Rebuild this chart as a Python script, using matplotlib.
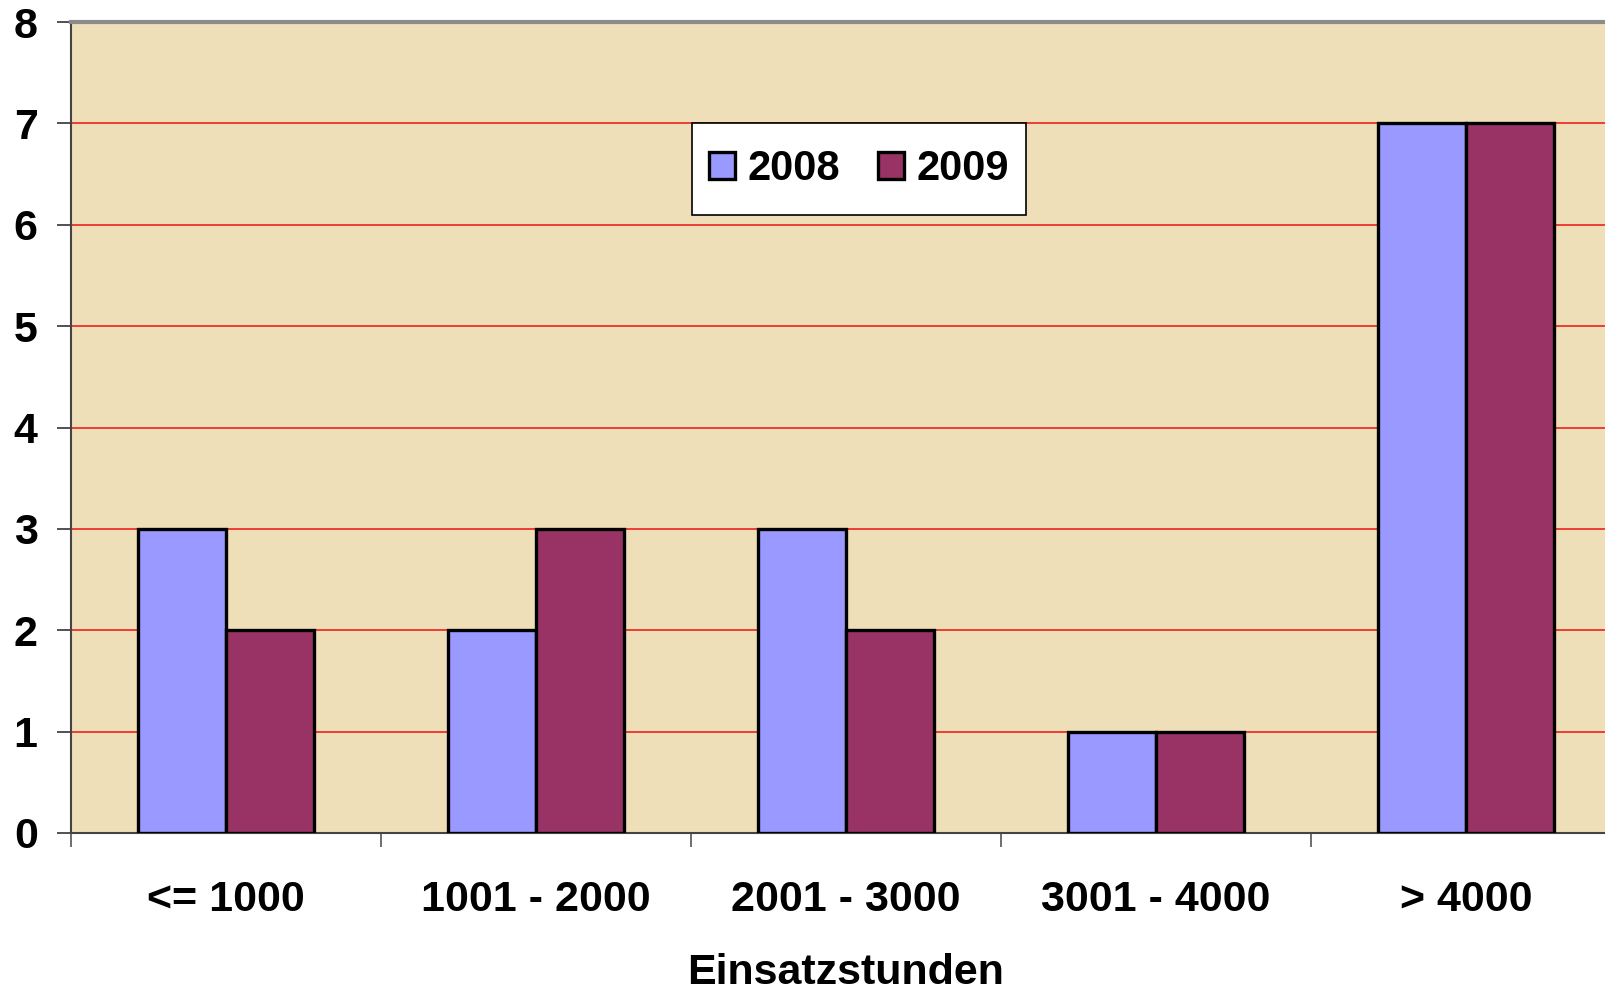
import numpy as np
import matplotlib.pyplot as plt
from matplotlib.patches import Rectangle

# Einsatzstunden categories and counts per year
categories = ['<= 1000', '1001 - 2000', '2001 - 3000', '3001 - 4000', '> 4000']
values_2008 = [3, 2, 3, 1, 7]
values_2009 = [2, 3, 2, 1, 7]
years = ['2008', '2009']

plt.rcParams['font.family'] = ['Liberation Sans', 'DejaVu Sans']
plt.rcParams['font.weight'] = 'bold'

W, H = 1605, 990
ax_l, ax_b, ax_t = 71, 833, 22   # plot area in pixels
fig = plt.figure(figsize=(W / 100, H / 100), dpi=100)
ax = fig.add_axes([ax_l / W, (H - ax_b) / H, 1 - ax_l / W, (ax_b - ax_t) / H])
ax.set_facecolor('#EFDFB8')

x = np.arange(len(categories))
w = 0.285
ax.bar(x - w / 2, values_2008, w, color='#9999FF', edgecolor='black', linewidth=2.4, label=years[0], zorder=3)
ax.bar(x + w / 2, values_2009, w, color='#993366', edgecolor='black', linewidth=2.4, label=years[1], zorder=3)

ax.set_yticks(range(0, 9))
ax.set_xticks(x)
ax.set_xticklabels(categories)
ax.set_xticks(np.arange(len(categories) + 1) - 0.5, minor=True)
# plot area is cut at the right edge, like in the original
ax.set_ylim(0, 8)
ax.set_xlim(-0.5, -0.5 + (W - ax_l) / 310)

for y in range(1, 8):
    ax.axhline(y, color='#EE1111', linewidth=1.1, zorder=1)

fs = 31
ax.tick_params(axis='x', which='major', length=0, pad=34, labelsize=fs)
ax.tick_params(axis='x', which='minor', length=10, width=1.2, color='#555555', direction='out')
ax.tick_params(axis='y', length=10, width=1.2, color='#333333', pad=14, labelsize=fs)
for lab in ax.get_xticklabels() + ax.get_yticklabels():
    lab.set_fontweight('bold')

for side in ['left', 'bottom']:
    ax.spines[side].set_color('#444444')
    ax.spines[side].set_linewidth(1.5)
ax.spines['top'].set_color('#8C8C8C')
ax.spines['top'].set_linewidth(3)
ax.spines['right'].set_visible(False)

ax.set_xlabel('Einsatzstunden', fontsize=fs, fontweight='bold', va='center')
ax.xaxis.set_label_coords((846 - ax_l) / (W - ax_l), -(973 - ax_b) / (ax_b - ax_t))

# legend box drawn separately (taller than matplotlib's padding gives)
aw, ah = W - ax_l, ax_b - ax_t
box = Rectangle(((692 - ax_l) / aw, (ax_b - 215) / ah), 334 / aw, 92 / ah, transform=ax.transAxes,
                facecolor='white', edgecolor='black', linewidth=1.2, zorder=5)
ax.add_patch(box)
leg = ax.legend(ncol=2, loc='center', bbox_to_anchor=((859 - ax_l) / aw, (ax_b - 169) / ah),
                fontsize=30, frameon=False, handlelength=0.62, handleheight=0.62,
                handletextpad=0.3, columnspacing=0.9, borderpad=0.3, borderaxespad=0)
for t in leg.get_texts():
    t.set_fontweight('bold')
for h in leg.legend_handles:
    h.set_linewidth(2.4)
leg.set_zorder(6)

fig.savefig('out.png', dpi=100)
